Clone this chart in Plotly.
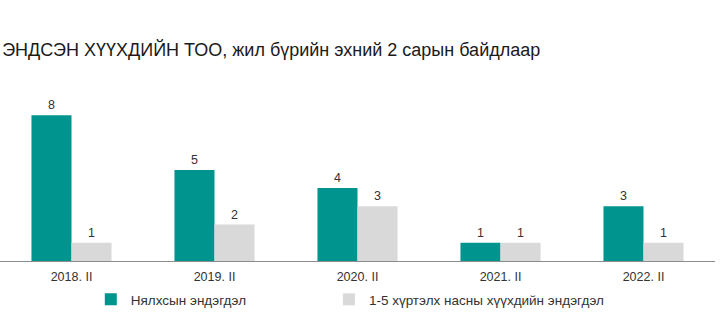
import plotly.graph_objects as go

# Data
categories = ["2018. II", "2019. II", "2020. II", "2021. II", "2022. II"]
infant_deaths = [8, 5, 4, 1, 3]
child_deaths = [1, 2, 3, 1, 1]
series_names = ["Нялхсын эндэгдэл", "1-5 хүртэлх насны хүүхдийн эндэгдэл"]

TEAL = "#00948f"
GRAY = "#d9d9d9"
FONT = "Liberation Sans, Arial, sans-serif"

fig = go.Figure()
fig.add_trace(go.Bar(
    x=categories, y=infant_deaths, name=series_names[0],
    marker=dict(color=TEAL, line=dict(width=0)),
    text=infant_deaths, textposition="outside", cliponaxis=False,
    textfont=dict(size=12.5, color="#333333", family=FONT),
    legend="legend",
))
fig.add_trace(go.Bar(
    x=categories, y=child_deaths, name=series_names[1],
    marker=dict(color=GRAY, line=dict(width=0)),
    text=child_deaths, textposition="outside", cliponaxis=False,
    textfont=dict(size=12.5, color="#333333", family=FONT),
    legend="legend2",
))

legend_style = dict(
    orientation="h", xanchor="left", y=-0.235, yanchor="middle",
    font=dict(size=13.5, color="#333333", family=FONT),
    itemwidth=30, bgcolor="rgba(0,0,0,0)",
)

fig.update_layout(
    width=720, height=323,
    margin=dict(l=0, r=5, t=97, b=62),
    paper_bgcolor="white", plot_bgcolor="white",
    barmode="group", bargap=0.44, bargroupgap=0,
    font=dict(family=FONT, size=12, color="#333333"),
    title=dict(
        text="ЭНДСЭН ХҮҮХДИЙН ТОО, жил бүрийн эхний 2 сарын байдлаар",
        x=0.003, xanchor="left", y=0.845, yanchor="middle",
        font=dict(size=18, color="#1a1a1a", family=FONT),
    ),
    showlegend=True,
    legend=dict(x=0.127, **legend_style),
    legend2=dict(x=0.46, **legend_style),
    xaxis=dict(
        showline=True, linecolor="#8c8c8c", linewidth=1.3,
        ticks="", showgrid=False, ticklabelstandoff=4,
        tickfont=dict(size=12.5, color="#333333", family=FONT),
    ),
    yaxis=dict(
        range=[0, 9], visible=False, showgrid=False, zeroline=False,
    ),
)

fig.write_html("out.html")
